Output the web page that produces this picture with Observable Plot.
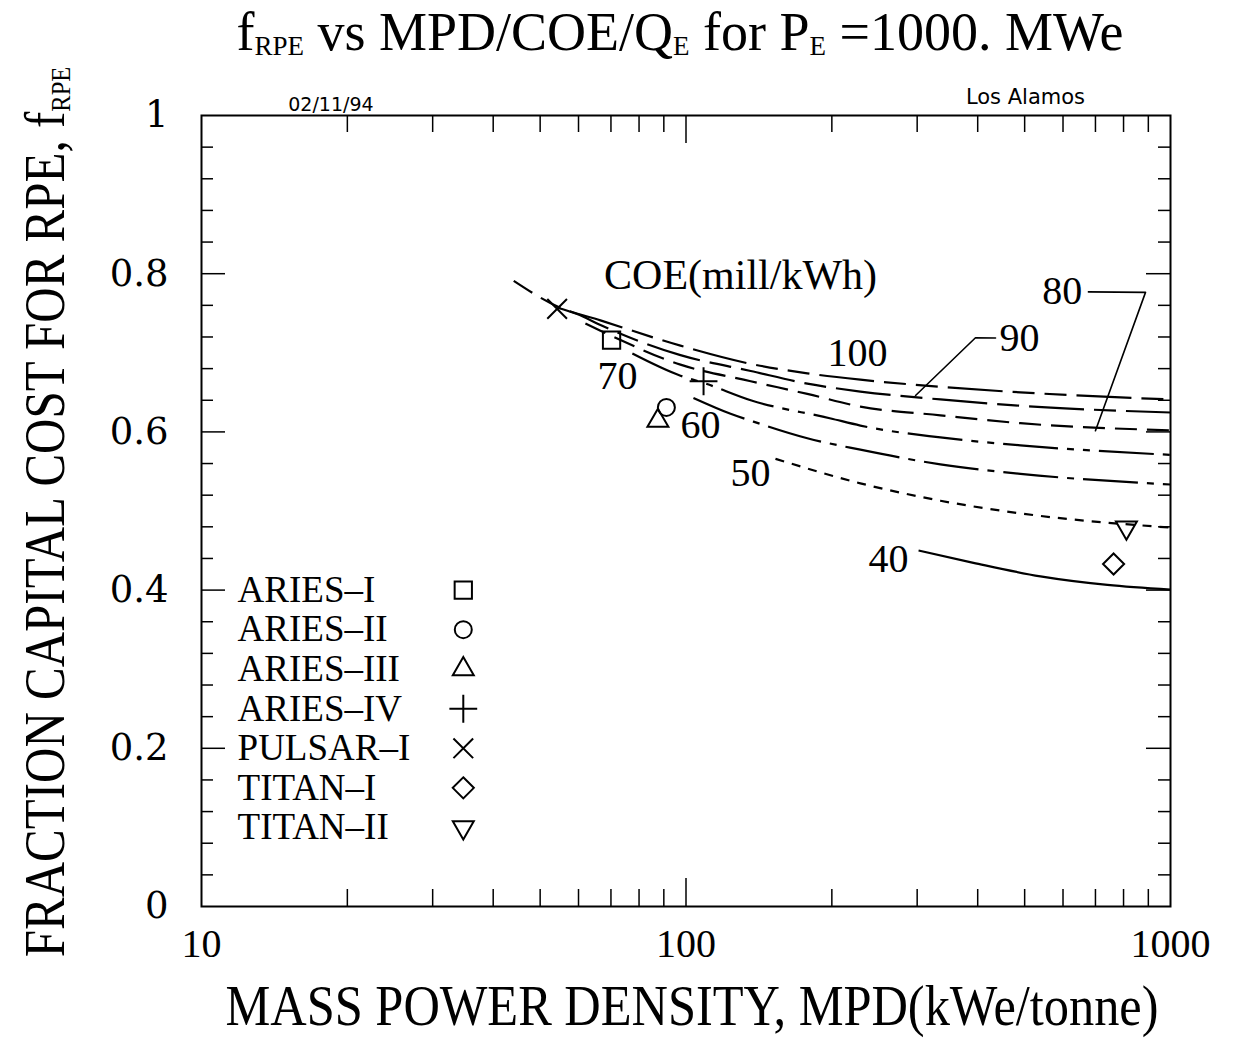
<!DOCTYPE html>
<html>
<head>
<meta charset="utf-8">
<script src="https://cdn.jsdelivr.net/npm/d3@7"></script>
<script src="https://cdn.jsdelivr.net/npm/@observablehq/plot@0.6"></script>
<style>
  body { margin: 0; background: #fff; }
  #wrap { position: relative; width: 1234px; height: 1039px; overflow: hidden; background: #fff; }
  #chart { position: absolute; left: 0; top: 70px; z-index: 1; }
  .lab { position: absolute; z-index: 2; white-space: nowrap; font-family: "Liberation Serif", serif; line-height: 1; color: #000; }
  #title { left: 680px; top: 5px; transform: translateX(-50%); font-size: 54px; }
  #ylab { left: 46px; top: 512px; transform: translate(-50%, -50%) rotate(-90deg) scaleX(0.875); font-size: 56px; }
  #xlab { left: 692px; top: 978px; transform: translateX(-50%) scaleX(0.9); font-size: 56px; }
  .sb { font-size: 0.5em; vertical-align: -0.2em; }
</style>
</head>
<body>
<div id="wrap">
  <div id="chart"></div>
  <div id="title" class="lab">f<span class="sb">RPE</span> vs MPD/COE/Q<span class="sb">E</span> for P<span class="sb">E</span> =1000. MWe</div>
  <div id="ylab" class="lab">FRACTION CAPITAL COST FOR RPE, f<span class="sb">RPE</span></div>
  <div id="xlab" class="lab">MASS POWER DENSITY, MPD(kWe/tonne)</div>
</div>
<script>
// ---- Curves: f_RPE vs MPD (kWe/tonne) for each COE (mill/kWh) ----
const coe100 = [[44.1,0.791],[54.3,0.7585],[66.6,0.741],[97.4,0.709],[136,0.686],[178,0.674],[229,0.666],[335,0.657],[490,0.650],[1000,0.641]];
const coe90  = [[54.3,0.757],[59.6,0.749],[66.6,0.735],[97.4,0.697],[136,0.677],[178,0.661],[229,0.651],[335,0.641],[490,0.633],[1000,0.6245]];
const coe80  = [[62,0.737],[66.6,0.728],[97.4,0.685],[136,0.664],[178,0.648],[229,0.632],[335,0.621],[490,0.611],[1000,0.602]];
const coe70  = [[77.5,0.699],[97.4,0.671],[108.7,0.662],[136,0.640],[199,0.617],[229,0.608],[335,0.593],[490,0.583],[1000,0.571]];
const coe60  = [[103.6,0.643],[123.6,0.623],[137.8,0.613],[178,0.592],[229,0.5775],[335,0.559],[490,0.547],[1000,0.5335]];
const coe50  = [[153,0.566],[229,0.535],[335,0.513],[490,0.497],[1000,0.479]];
const coe40  = [[302,0.450],[392,0.4345],[539,0.4174],[741,0.4066],[1000,0.4007]];

// ---- Design points ----
const projectNames = ["ARIES\u2013I","ARIES\u2013II","ARIES\u2013III","ARIES\u2013IV","PULSAR\u2013I","TITAN\u2013I","TITAN\u2013II"];
const projectMPD   = [70.2, 91.1, 87.5, 108.7, 54.2, 763, 811];
const projectFRPE  = [0.716, 0.631, 0.614, 0.664, 0.7555, 0.433, 0.479];

// ---- Curve labels ----
const curveLabels = ["100","90","80","70","60","50","40"];
const curveLabelX = [226, 488, 598, 72.2, 107.1, 135.9, 261.8];
const curveLabelY = [0.699, 0.7186, 0.7775, 0.670, 0.6086, 0.5484, 0.4394];

// ---- Leader lines for 90 and 80 ----
const leader90 = [[435.4,0.7188],[395.8,0.719],[297.7,0.646]];
const leader80 = [[677,0.777],[888,0.7764],[700,0.6014]];

// ---- Axis ticks ----
const xTickLabels = [10, 100, 1000];
const xMinor = [20,30,40,50,60,70,80,90,200,300,400,500,600,700,800,900];
const xMajor = [100];
const yTickLabels = [0, 0.2, 0.4, 0.6, 0.8, 1];
const yMinor = [0.04,0.08,0.12,0.16,0.24,0.28,0.32,0.36,0.44,0.48,0.52,0.56,0.64,0.68,0.72,0.76,0.84,0.88,0.92,0.96];
const yMajor = [0.2,0.4,0.6,0.8];

// symbols
const triangleDown = {
  draw(context, size) {
    const s = Math.sqrt(size) * 0.6824, t = s / 2, u = s * Math.sqrt(3) / 2;
    context.moveTo(0, s); context.lineTo(u, -t); context.lineTo(-u, -t); context.closePath();
  }
};
const projectSymbols = ["square2","circle","triangle2","plus","times","diamond2",triangleDown];
const symbolRadius   = [11, 8.5, 10, 9, 9, 9.5, 10];

const W = 1234, H = 969, ML = 201, MR = 64, MT = 45, MB = 133;
const FW = W - ML - MR, FH = H - MT - MB;

const serif = "Liberation Serif";
const xy = {x: d => d[0], y: d => d[1]};
const lineStyle = {curve: "monotone-x", stroke: "black", strokeWidth: 2.2, strokeLinecap: "butt"};

const marks = [
  Plot.frame({stroke: "black", strokeWidth: 2}),
  // inward ticks
  Plot.tickX(xMinor, {x: d => d, insetTop: FH - 17, stroke: "black", strokeWidth: 1.5}),
  Plot.tickX(xMinor, {x: d => d, insetBottom: FH - 17, stroke: "black", strokeWidth: 1.5}),
  Plot.tickX(xMajor, {x: d => d, insetTop: FH - 28, stroke: "black", strokeWidth: 1.5}),
  Plot.tickX(xMajor, {x: d => d, insetBottom: FH - 28, stroke: "black", strokeWidth: 1.5}),
  Plot.tickY(yMinor, {y: d => d, insetRight: FW - 12, stroke: "black", strokeWidth: 1.5}),
  Plot.tickY(yMinor, {y: d => d, insetLeft: FW - 12, stroke: "black", strokeWidth: 1.5}),
  Plot.tickY(yMajor, {y: d => d, insetRight: FW - 24, stroke: "black", strokeWidth: 1.5}),
  Plot.tickY(yMajor, {y: d => d, insetLeft: FW - 24, stroke: "black", strokeWidth: 1.5}),
  Plot.axisX(xTickLabels, {tickSize: 0, tickPadding: 22, fontSize: 40, fontFamily: serif, tickFormat: d => String(d), label: null}),
  Plot.axisY(yTickLabels, {tickSize: 0, tickPadding: 33, fontSize: 37, fontFamily: "DejaVu Serif", tickFormat: d => d === 0 ? "0" : d === 1 ? "1" : d.toFixed(1), label: null}),
  // curves
  Plot.line(coe100, {...xy, ...lineStyle, strokeDasharray: "22,10,22,10,55,10"}),
  Plot.line(coe90,  {...xy, ...lineStyle, strokeDasharray: "55,10,22,10"}),
  Plot.line(coe80,  {...xy, ...lineStyle, strokeDasharray: "22,10"}),
  Plot.line(coe70,  {...xy, ...lineStyle, strokeDasharray: "55,9,7,9,7,9"}),
  Plot.line(coe60,  {...xy, ...lineStyle, strokeDasharray: "55,9,7,9"}),
  Plot.line(coe50,  {...xy, ...lineStyle, strokeDasharray: "9,8"}),
  Plot.line(coe40,  {...xy, ...lineStyle}),
  // leaders
  Plot.line(leader90, {...xy, stroke: "black", strokeWidth: 1.6}),
  Plot.line(leader80, {...xy, stroke: "black", strokeWidth: 1.6}),
  // curve labels
  Plot.text(curveLabels, {x: (d, i) => curveLabelX[i], y: (d, i) => curveLabelY[i], text: d => d, fontSize: 40, fontFamily: serif, fill: "black"}),
  Plot.text(["COE(mill/kWh)"], {x: () => 129.6, y: () => 0.798, text: d => d, fontSize: 42, fontFamily: serif, fill: "black"}),
  // corner notes
  Plot.text(["02/11/94"], {x: () => 18.5, frameAnchor: "top", dy: -18, text: d => d, fontSize: 19, fontFamily: "DejaVu Sans", fill: "black"}),
  Plot.text(["Los Alamos"], {x: () => 502, frameAnchor: "top", dy: -26, text: d => d, fontSize: 21, fontFamily: "DejaVu Sans", fill: "black"}),
];

// design points & legend
projectNames.forEach((name, i) => {
  marks.push(Plot.dot([i], {x: () => projectMPD[i], y: () => projectFRPE[i], symbol: projectSymbols[i], r: symbolRadius[i], stroke: "black", strokeWidth: 2, fill: "none"}));
  marks.push(Plot.dot([i], {x: () => 34.7, y: () => 0.4 - 0.05 * i, symbol: projectSymbols[i], r: symbolRadius[i], stroke: "black", strokeWidth: 2, fill: "none"}));
  marks.push(Plot.text([name], {x: () => 11.87, y: () => 0.4 - 0.05 * i, text: d => d, textAnchor: "start", fontSize: 37, fontFamily: serif, fill: "black"}));
});

const chart = Plot.plot({
  width: W, height: H,
  marginLeft: ML, marginRight: MR, marginTop: MT, marginBottom: MB,
  x: {type: "log", domain: [10, 1000]},
  y: {domain: [0, 1]},
  style: {fontFamily: serif, background: "white", color: "black", overflow: "visible"},
  marks
});
document.getElementById("chart").appendChild(chart);
</script>
</body>
</html>
